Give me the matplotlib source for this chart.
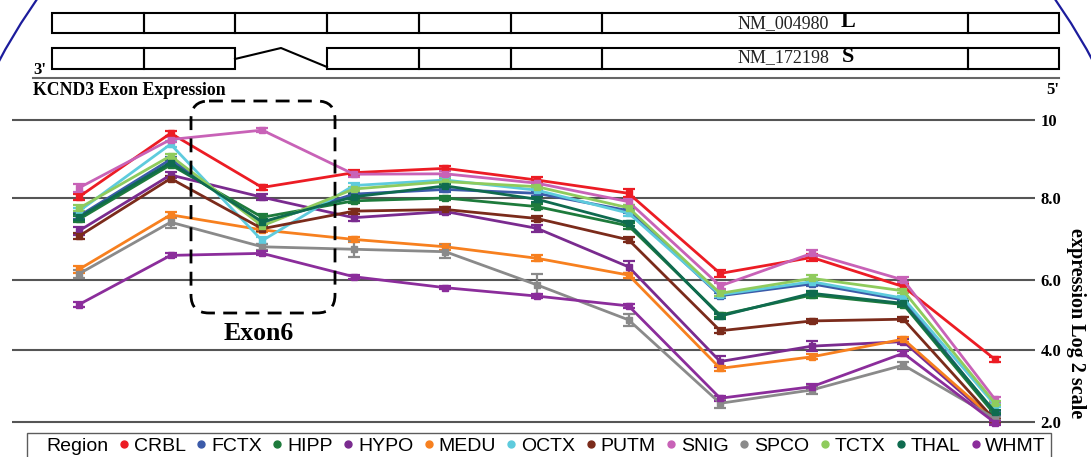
import numpy as np
import matplotlib
matplotlib.use("Agg")
import matplotlib.pyplot as plt
from matplotlib.patches import Rectangle, FancyBboxPatch, Circle
from matplotlib.lines import Line2D

# ---------------- data ----------------
regions = ["CRBL", "FCTX", "HIPP", "HYPO", "MEDU", "OCTX",
           "PUTM", "SNIG", "SPCO", "TCTX", "THAL", "WHMT"]
exon_positions = [1, 2, 3, 4, 5, 6, 7, 8, 9, 10, 11]

crbl = [8.03, 9.66, 8.27, 8.65, 8.76, 8.46, 8.12, 6.16, 6.55, 5.81, 3.74]
fctx = [7.56, 8.99, 7.38, 8.10, 8.22, 8.12, 7.69, 5.55, 5.89, 5.43, 2.24]
hipp = [7.48, 8.85, 7.53, 7.93, 8.00, 7.79, 7.32, 5.00, 5.57, 5.30, 2.20]
hypo = [7.20, 8.59, 8.02, 7.52, 7.67, 7.26, 6.32, 3.68, 4.11, 4.24, 2.00]
medu = [6.26, 7.59, 7.22, 6.99, 6.81, 6.53, 6.12, 3.49, 3.81, 4.31, 2.06]
octx = [7.68, 9.38, 6.96, 8.32, 8.46, 8.20, 7.63, 5.58, 5.95, 5.48, 2.47]
putm = [7.07, 8.50, 7.25, 7.68, 7.72, 7.50, 6.98, 4.55, 4.83, 4.88, 2.05]
snig = [8.26, 9.50, 9.74, 8.61, 8.62, 8.38, 7.91, 5.83, 6.65, 6.00, 2.63]
spco = [6.15, 7.41, 6.81, 6.75, 6.69, 5.86, 4.86, 2.52, 2.89, 3.58, 2.10]
tctx = [7.75, 9.08, 7.32, 8.23, 8.42, 8.29, 7.76, 5.62, 6.04, 5.69, 2.52]
thal = [7.53, 8.91, 7.42, 8.03, 8.31, 7.97, 7.38, 4.97, 5.62, 5.33, 2.28]
whmt = [5.30, 6.60, 6.65, 6.08, 5.78, 5.54, 5.26, 2.66, 2.98, 3.91, 1.98]

crbl_err = [0.07, 0.06, 0.07, 0.06, 0.06, 0.07, 0.10, 0.08, 0.08, 0.07, 0.06]
fctx_err = [0.07, 0.06, 0.07, 0.06, 0.06, 0.06, 0.06, 0.07, 0.07, 0.06, 0.06]
hipp_err = [0.07, 0.06, 0.07, 0.06, 0.06, 0.06, 0.07, 0.07, 0.07, 0.06, 0.06]
hypo_err = [0.10, 0.07, 0.08, 0.08, 0.07, 0.09, 0.15, 0.15, 0.15, 0.07, 0.06]
medu_err = [0.08, 0.08, 0.06, 0.06, 0.08, 0.07, 0.06, 0.07, 0.07, 0.07, 0.05]
octx_err = [0.07, 0.07, 0.08, 0.07, 0.06, 0.06, 0.06, 0.07, 0.07, 0.06, 0.06]
putm_err = [0.07, 0.06, 0.06, 0.06, 0.06, 0.07, 0.06, 0.07, 0.06, 0.05, 0.05]
snig_err = [0.10, 0.06, 0.06, 0.06, 0.06, 0.06, 0.07, 0.08, 0.08, 0.07, 0.07]
spco_err = [0.10, 0.13, 0.08, 0.20, 0.16, 0.28, 0.18, 0.12, 0.10, 0.10, 0.05]
tctx_err = [0.07, 0.06, 0.07, 0.06, 0.06, 0.06, 0.06, 0.07, 0.07, 0.06, 0.06]
thal_err = [0.07, 0.06, 0.07, 0.06, 0.06, 0.06, 0.07, 0.07, 0.07, 0.06, 0.06]
whmt_err = [0.06, 0.05, 0.05, 0.05, 0.05, 0.05, 0.05, 0.07, 0.07, 0.07, 0.05]

series = [crbl, fctx, hipp, hypo, medu, octx, putm, snig, spco, tctx, thal, whmt]
errors = [crbl_err, fctx_err, hipp_err, hypo_err, medu_err, octx_err,
          putm_err, snig_err, spco_err, tctx_err, thal_err, whmt_err]
colors = ["#ec1c24", "#3b5ba9", "#1e7b3c", "#7a2b8f", "#f7801f", "#5ecbdd",
          "#7b2b1b", "#c862b7", "#8a8a8a", "#8fcb5d", "#0f6b4f", "#8b2d9b"]

y_ticks = [2, 4, 6, 8, 10]
y_ticklabels = ["2.0", "4.0", "6.0", "8.0", "10"]

# ---------------- figure ----------------
W, H = 1091, 457
fig = plt.figure(figsize=(W / 100, H / 100), dpi=100)
SERIF = "Liberation Serif"
SANS = "Liberation Sans"

# gridline pixel rows of the reference (non-uniform spacing)
knot_vals = np.array([12.0, 10, 8, 6, 4, 2, 0])
knot_pix = np.array([42.0, 120, 198, 280, 350, 422, 494])

def fwd(v):
    return -np.interp(v, knot_vals[::-1], knot_pix[::-1])

def inv(u):
    return np.interp(-np.asarray(u), knot_pix, knot_vals)

ax_left, ax_right = 12, 1035
ax_top, ax_bot = 100, 432
ax = fig.add_axes([ax_left / W, 1 - ax_bot / H, (ax_right - ax_left) / W, (ax_bot - ax_top) / H])
ax.set_yscale("function", functions=(fwd, inv))
ax.set_ylim(float(inv(-ax_bot)), float(inv(-ax_top)))
ax.set_xlim(1 - (79 - ax_left) / 91.6, 11 + (ax_right - 995) / 91.6)

for vals, errs, col in zip(series, errors, colors):
    ax.errorbar(exon_positions, vals, yerr=errs, color=col, lw=2.0,
                marker="s", markersize=4.5, capsize=4.5, capthick=1.6,
                elinewidth=1.6, zorder=3)

ax.set_yticks(y_ticks)
ax.set_yticklabels(y_ticklabels)
ax.yaxis.tick_right()
ax.tick_params(axis="y", length=0, pad=4, labelsize=12)
for lab in ax.get_yticklabels():
    lab.set_fontfamily(SERIF)
    lab.set_fontweight("bold")
ax.set_xticks([])
ax.yaxis.grid(True, color="#555555", lw=1.5, zorder=1)
for s in ax.spines.values():
    s.set_visible(False)
ax.patch.set_alpha(0)

# ---------------- overlay decorations (pixel coordinates) ----------------
ov = fig.add_axes([0, 0, 1, 1], zorder=5)
ov.set_xlim(0, W)
ov.set_ylim(H, 0)
ov.axis("off")
ov.patch.set_alpha(0)

bounds = [52, 144, 235, 327, 419, 511, 602, 968, 1059]
top_y0, top_y1 = 13, 33
bot_y0, bot_y1 = 48, 69
for a, b in zip(bounds[:-1], bounds[1:]):
    ov.add_patch(Rectangle((a, top_y0), b - a, top_y1 - top_y0, fill=False,
                           ec="black", lw=1.5))
for i, (a, b) in enumerate(zip(bounds[:-1], bounds[1:])):
    if i == 2:
        continue
    ov.add_patch(Rectangle((a, bot_y0), b - a, bot_y1 - bot_y0, fill=False,
                           ec="black", lw=1.5))
ov.plot([235, 281, 327], [59, 48, 67], color="black", lw=1.5)

ov.text(783, 24, "NM_004980", ha="center", va="center", fontsize=13,
        family=SERIF, color="#222222")
ov.text(848, 22, "L", ha="center", va="center", fontsize=16,
        family=SERIF, fontweight="bold")
ov.text(783, 58, "NM_172198", ha="center", va="center", fontsize=13,
        family=SERIF, color="#222222")
ov.text(848, 57, "S", ha="center", va="center", fontsize=16,
        family=SERIF, fontweight="bold")

ov.plot([33, 1059], [78, 78], color="#666666", lw=1.5)
ov.text(33, 74, "3'", ha="left", va="baseline", fontsize=12, family=SERIF,
        fontweight="bold")
ov.text(1059, 94, "5'", ha="right", va="baseline", fontsize=12, family=SERIF,
        fontweight="bold")
ov.text(33, 95, "KCND3 Exon Expression", ha="left", va="baseline", fontsize=12.8,
        family=SERIF, fontweight="bold")

# dashed rounded box around exon 6
ov.add_patch(FancyBboxPatch((191, 101), 335 - 191, 313 - 101,
                            boxstyle="round,pad=0,rounding_size=18",
                            fill=False, ec="black", lw=2.0,
                            linestyle=(0, (5, 3))))
ov.text(259, 333, "Exon6", ha="center", va="center", fontsize=18.5,
        family=SERIF, fontweight="bold")

# y label
ov.text(1076, 323, "expression Log 2 scale", rotation=270, ha="center",
        va="center", fontsize=14.5, family=SERIF, fontweight="bold")

# blue arc
ov.add_patch(Circle((546, 355), 621, fill=False, ec="#1c1c9c", lw=1.6))

# legend
handles = [Line2D([], [], linestyle="none", marker="none")]
labels = ["Region"]
for r, c in zip(regions, colors):
    handles.append(Line2D([], [], linestyle="none", marker="o", markersize=5,
                          color=c))
    labels.append(r)
leg = fig.legend(handles, labels, ncol=13, loc="lower left",
                 bbox_to_anchor=(27 / W, -3 / H), frameon=True, fancybox=False,
                 prop={"family": SANS, "size": 14}, handlelength=0.5,
                 handletextpad=0.25, columnspacing=0.55, borderpad=0.25,
                 borderaxespad=0)
leg.get_frame().set_edgecolor("#333333")
leg.get_frame().set_linewidth(1.0)

fig.savefig("out.png", dpi=100)
